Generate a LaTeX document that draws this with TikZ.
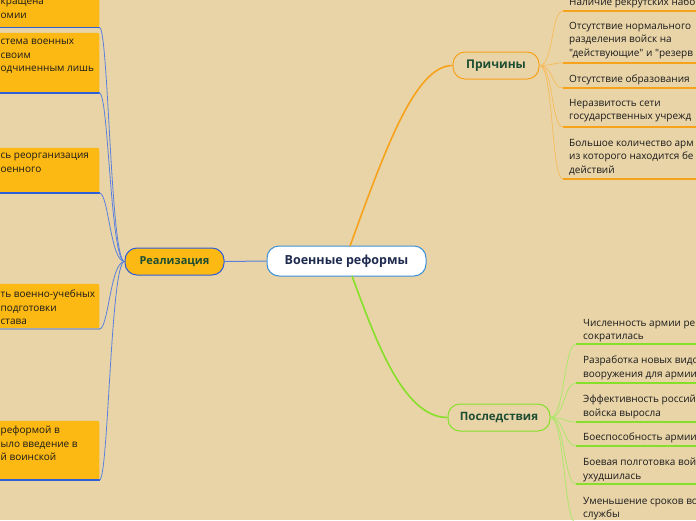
\documentclass[tikz,border=0pt]{standalone}
\usepackage{fontspec}
\setmainfont{Open Sans}[Ligatures=TeXOff]
\newfontfamily\titlefont{Open Sans}[Ligatures=TeXOff]
\definecolor{bg}{HTML}{E9D4A8}
\definecolor{boxfill}{HTML}{FDB913}
\definecolor{blueconn}{HTML}{5A80DC}
\definecolor{bluedark}{HTML}{2F5FD8}
\definecolor{orangeline}{HTML}{F7A21B}
\definecolor{orangelight}{HTML}{F6BC5A}
\definecolor{greenline}{HTML}{86E02A}
\definecolor{greenlight}{HTML}{A8E866}
\definecolor{titlegreen}{HTML}{1D4D32}
\definecolor{navy}{HTML}{1E2B4F}
\definecolor{centerborder}{HTML}{3A8FD6}
\definecolor{itemtext}{HTML}{1A1A1A}
\definecolor{grayline}{HTML}{A3A6B0}
\begin{document}
\begin{tikzpicture}[x=1pt,y=-1pt,
  topic/.style={rounded corners=12pt, line width=1pt, inner sep=0pt,
    font=\titlefont\bfseries\fontsize{12.5}{15}\selectfont, text=titlegreen, minimum height=27pt},
  itemtxt/.style={anchor=north west, inner sep=0pt, align=left,
    font=\fontsize{10}{13.5}\selectfont, text=itemtext},
  leftbox/.style={fill=boxfill, rounded corners=2pt, inner sep=0pt, anchor=south east, minimum width=110pt},
  bottomblue/.style={draw=bluedark, line width=1.5pt},
  bottomgray/.style={draw=grayline, line width=1.5pt},
  leftconn/.style={draw=blueconn, line width=0.8pt},
  orconn/.style={draw=orangelight, line width=0.7pt},
  orul/.style={draw=orangeline, line width=1.6pt},
  grconn/.style={draw=greenlight, line width=0.7pt},
  grul/.style={draw=greenline, line width=1.6pt}
]
\useasboundingbox (0,0) rectangle (696,520);
\fill[bg] (0,0) rectangle (696,520);

% main nodes
\node[topic, draw=centerborder, fill=white, text=navy, minimum width=159pt, minimum height=30pt,
  font=\titlefont\bfseries\fontsize{12.5}{16}\selectfont] (central) at (346.5,261) {Военные реформы};
\node[topic, draw=bluedark, fill=boxfill, minimum width=99pt, font=\titlefont\bfseries\fontsize{11}{14}\selectfont] (real) at (174.5,261.5) {Реализация};
\node[topic, draw=orangeline, minimum width=86pt, font=\titlefont\bfseries\fontsize{12}{15}\selectfont] (prich) at (496,65.5) {Причины};
\node[topic, draw=greenline, minimum width=102pt, font=\titlefont\bfseries\fontsize{11.5}{15}\selectfont] (posl) at (499,417.5) {Последствия};

% main connectors
\draw[blueconn, line width=1pt] (real.east) -- (central.west);
\coordinate (cTop) at (350,246);
\coordinate (cBot) at (352,276);
\draw[orangeline, line width=1.6pt] (cTop) .. controls (385,150) and (415,65.5) .. (prich.west);
\draw[greenline, line width=1.6pt] (cBot) .. controls (374,335) and (402,417.5) .. (posl.west);

% left boxes
\node[leftbox, minimum height=47.5pt] (b1) at (99.5,27.5) {};
\node[leftbox, minimum height=60pt] (b2) at (99.5,93) {};
\node[leftbox, minimum height=45pt] (b3) at (99.5,193) {};
\node[leftbox, minimum height=45pt] (b4) at (99.5,329) {};
\node[leftbox, minimum height=59pt] (b5) at (99.5,480) {};
\draw[bottomblue] (b1.south west) -- (b1.south east);
\draw[bottomblue] (b2.south west) -- (b2.south east);
\draw[bottomblue] (b3.south west) -- (b3.south east);
\draw[bottomgray] (b4.south west) -- (b4.south east);
\draw[bottomblue] (b5.south west) -- (b5.south east);
\node[itemtxt] (b1t) at (0.5,-1) {кращена\\омии};
\node[itemtxt] (b2t) at (0.5,39) {стема военных\\своим\\одчиненным лишь};
\node[itemtxt] (b3t) at (0.5,153) {сь реорганизация\\оенного};
\node[itemtxt] (b4t) at (0.5,290) {ть военно-учебных\\подготовки\\става};
\node[itemtxt] (b5t) at (0.5,426) {реформой в\\ыло введение в\\й воинской};

\foreach \b in {b1,b2,b3,b4,b5}{
  \draw[leftconn] (\b.south east) .. controls +(9,0) and +(-14,0) .. (real.west);
}

% Причины items
\node[itemtxt] (p1) at (569,-2) {Наличие рекрутских набо};
\node[itemtxt] (p2) at (569,22) {Отсутствие нормального\\разделения войск на\\"действующие" и "резерв};
\node[itemtxt] (p3) at (569,75) {Отсутствие образования};
\node[itemtxt] (p4) at (569,99) {Неразвитость сети\\государственных учрежд};
\node[itemtxt] (p5) at (569,139) {Большое количество арм\\из которого находится бе\\действий};
\coordinate (pu1) at (563,11);
\coordinate (pu2) at (563,63);
\coordinate (pu3) at (563,88);
\coordinate (pu4) at (563,127);
\coordinate (pu5) at (563,179);
\foreach \u in {pu1,pu2,pu3,pu4,pu5}{
  \draw[orconn] (prich.east) .. controls +(14,0) and +(-12,0) .. (\u);
  \draw[orul] (\u) -- ++(140,0);
}

% Последствия items
\node[itemtxt] (q1) at (583,319) {Численность армии ре\\сократилась};
\node[itemtxt] (q2) at (583,356) {Разработка новых видо\\вооружения для армии};
\node[itemtxt] (q3) at (583,395) {Эффективность россий\\войска выросла};
\node[itemtxt] (q4) at (583,433) {Боеспособность армии};
\node[itemtxt] (q5) at (583,458) {Боевая полготовка вой\\ухудшилась};
\node[itemtxt] (q6) at (583,497) {Уменьшение сроков во\\службы};
\coordinate (qu1) at (576,344);
\coordinate (qu2) at (576,383);
\coordinate (qu3) at (576,422);
\coordinate (qu4) at (576,446);
\coordinate (qu5) at (576,484);
\coordinate (qu6) at (576,523);
\foreach \u in {qu1,qu2,qu3,qu4,qu5,qu6}{
  \draw[grconn] (posl.east) .. controls +(14,0) and +(-12,0) .. (\u);
  \draw[grul] (\u) -- ++(130,0);
}
\end{tikzpicture}
\end{document}
